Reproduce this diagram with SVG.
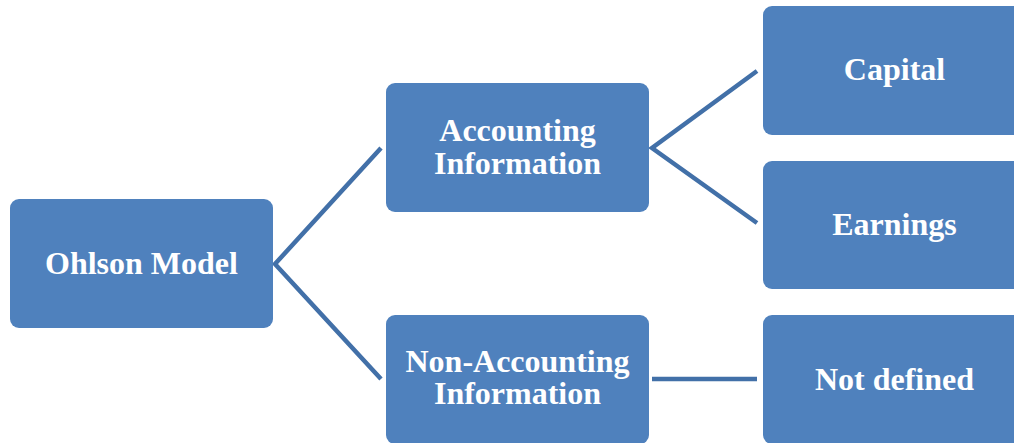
<svg xmlns="http://www.w3.org/2000/svg" width="1014" height="443" viewBox="0 0 1014 443">
<style>
.box{fill:#4F81BD;}
.lbl{font-family:"Liberation Serif","Times New Roman",serif;font-weight:bold;font-size:32px;fill:#FFFFFF;text-anchor:middle;}
.conn{stroke:#4270A8;stroke-width:4.5;fill:none;stroke-linejoin:miter;}
</style>
<rect width="1014" height="443" fill="#FFFFFF"/>
<g id="connectors">
<polyline class="conn" points="381,148 275,264 381,379"/>
<polyline class="conn" points="757,71 652,148 757,223"/>
<line class="conn" x1="652" y1="379" x2="757" y2="379"/>
</g>
<g id="ohlson">
<rect class="box" x="10" y="199" width="263" height="129" rx="9"/>
<text class="lbl" x="141.5" y="274">Ohlson Model</text>
</g>
<g id="accounting">
<rect class="box" x="386" y="83" width="263" height="129" rx="9"/>
<text class="lbl" x="517.5" y="141">Accounting</text>
<text class="lbl" x="517.5" y="174">Information</text>
</g>
<g id="nonaccounting">
<rect class="box" x="386" y="315" width="263" height="129" rx="9"/>
<text class="lbl" x="517.5" y="372">Non-Accounting</text>
<text class="lbl" x="517.5" y="404">Information</text>
</g>
<g id="capital">
<rect class="box" x="763" y="6" width="263" height="129" rx="9"/>
<text class="lbl" x="894.5" y="80">Capital</text>
</g>
<g id="earnings">
<rect class="box" x="763" y="161" width="263" height="128" rx="9"/>
<text class="lbl" x="894.5" y="235">Earnings</text>
</g>
<g id="notdefined">
<rect class="box" x="763" y="315" width="263" height="129" rx="9"/>
<text class="lbl" x="894.5" y="390">Not defined</text>
</g>
</svg>
